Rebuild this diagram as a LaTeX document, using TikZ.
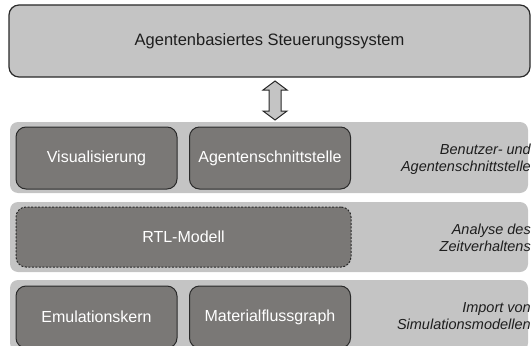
\documentclass[tikz,border=0pt]{standalone}
\usepackage{fontspec}
\setmainfont{Liberation Sans}

\definecolor{rahmen}{HTML}{2A2A2A}
\definecolor{hellgrau}{HTML}{C4C4C4}
\definecolor{dunkelgrau}{HTML}{7A7876}
\definecolor{schrift}{HTML}{1E1E1E}

\tikzset{
  schicht/.style={fill=hellgrau, rounded corners=8pt, inner sep=0pt},
  block/.style={draw=rahmen, line width=1pt, fill=dunkelgrau, rounded corners=10pt,
    text=white, font=\fontsize{16}{19}\selectfont, minimum width=161pt,
    minimum height=62pt, inner sep=0pt},
  beschriftung/.style={anchor=east, align=right, inner sep=0pt,
    font=\fontsize{14.5}{16.5}\selectfont\itshape, text=schrift},
}

\begin{document}
\begin{tikzpicture}[x=1pt, y=1pt]

    \useasboundingbox (0,0) rectangle (532,-345);
    \clip (0,0) rectangle (532,-345);

    % Steuerungssystem oben
    \node[draw=rahmen, line width=1.2pt, fill=hellgrau, rounded corners=10pt,
      minimum width=521pt, minimum height=72pt, text=schrift,
      font=\fontsize{16.5}{19}\selectfont] (steuerung) at (269.5,-41) {Agentenbasiertes Steuerungssystem};

    % Schichten
    \node[schicht, minimum width=518pt, minimum height=71pt] (schicht 1) at (269,-157.5) {};
    \node[schicht, minimum width=518pt, minimum height=70pt] (schicht 2) at (269,-237) {};
    \node[schicht, minimum width=518pt, minimum height=71pt] (schicht 3) at (269,-315.5) {};

    % Doppelpfeil zwischen Steuerung und Schnittstellen
    \coordinate (pfeil) at (275,-100.5);
    \draw[draw=rahmen, line width=1pt, fill=hellgrau, line join=miter, shift={(pfeil)}]
      (0,19.5) -- (12,10.5) -- (6,10.5) -- (6,-10.5) -- (12,-10.5) -- (0,-19.5)
      -- (-12,-10.5) -- (-6,-10.5) -- (-6,10.5) -- (-12,10.5) -- cycle;

    \node[block] (visu) at (96.5,-158) {Visualisierung};
    \node[block] (agent) at (270,-158) {Agentenschnittstelle};
    \node[block, minimum width=335pt, minimum height=60pt,
      dash pattern=on 2pt off 1.5pt] (rtl) at (183.5,-237) {RTL-Modell};
    \node[block] (emu) at (96.5,-317) {Emulationskern};
    \node[block] (mfg) at (270,-317) {Materialflussgraph};

    \node[beschriftung] (text 1) at (531,-159) {Benutzer- und\\Agentenschnittstelle};
    \node[beschriftung] (text 2) at (531,-238) {Analyse des\\Zeitverhaltens};
    \node[beschriftung] (text 3) at (531,-316) {Import von\\Simulationsmodellen};

\end{tikzpicture}
\end{document}
